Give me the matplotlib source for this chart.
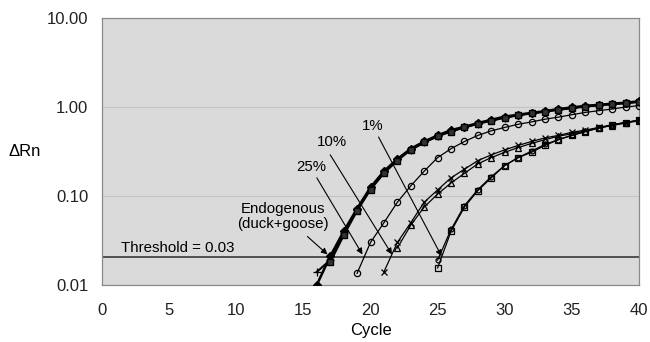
import numpy as np
import matplotlib
matplotlib.use('Agg')
import matplotlib.pyplot as plt

plt.rcParams['font.family'] = ['Liberation Sans', 'DejaVu Sans']

# Curvas de amplificacion (ciclo inicial, valores de delta Rn por ciclo)
endo_diamante_ini = 16
endo_diamante = [0.010, 0.021, 0.040, 0.072, 0.125, 0.19, 0.26, 0.34, 0.41, 0.48, 0.55, 0.60,
                 0.66, 0.72, 0.78, 0.82, 0.86, 0.90, 0.95, 0.99, 1.03, 1.06, 1.09, 1.12, 1.16]
endo_mas_ini = 16
endo_mas = [0.014, 0.019, 0.038, 0.070, 0.120, 0.185, 0.26, 0.33, 0.40, 0.47, 0.54, 0.59,
            0.65, 0.71, 0.76, 0.81, 0.85, 0.89, 0.94, 0.98, 1.02, 1.05, 1.08, 1.11, 1.15]
endo_cuadrado_ini = 17
endo_cuadrado = [0.018, 0.036, 0.068, 0.118, 0.18, 0.25, 0.33, 0.40, 0.47, 0.53, 0.59,
                 0.65, 0.70, 0.76, 0.81, 0.85, 0.89, 0.93, 0.97, 1.01, 1.05, 1.08, 1.11, 1.14]

p25_ini = 19
p25 = [0.0135, 0.030, 0.050, 0.085, 0.13, 0.19, 0.27, 0.34, 0.41, 0.48, 0.54, 0.59,
       0.64, 0.68, 0.73, 0.77, 0.82, 0.87, 0.91, 0.95, 1.00, 1.04]

p10_ini = 21
p10 = [0.014, 0.030, 0.050, 0.085, 0.117, 0.16, 0.20, 0.25, 0.29, 0.33, 0.37, 0.41,
       0.45, 0.48, 0.52, 0.55, 0.59, 0.63, 0.67, 0.71]
p10b_ini = 22
p10b = [0.026, 0.047, 0.075, 0.105, 0.14, 0.18, 0.23, 0.27, 0.31, 0.35, 0.39, 0.43,
        0.47, 0.50, 0.54, 0.58, 0.62, 0.66, 0.70]

p1_ini = 25
p1 = [0.0155, 0.040, 0.075, 0.115, 0.16, 0.22, 0.27, 0.31, 0.37, 0.43, 0.48, 0.53,
      0.58, 0.63, 0.67, 0.71]
p1b_ini = 25
p1b = [0.019, 0.042, 0.078, 0.118, 0.165, 0.22, 0.27, 0.32, 0.38, 0.43, 0.48, 0.53,
       0.58, 0.63, 0.67, 0.71]

umbral = 0.0205
texto_umbral = 'Threshold = 0.03'

# etiquetas: texto, posicion del texto, cola y punta de la flecha
etiquetas = ['1%', '10%', '25%', 'Endogenous\n(duck+goose)']
pos_texto = [(20.2, 0.61), (17.1, 0.40), (15.6, 0.21), (13.5, 0.059)]
cola = [(20.6, 0.46), (17.0, 0.29), (16.0, 0.16), (15.3, 0.035)]
punta = [(25.3, 0.021), (21.6, 0.022), (19.4, 0.022), (16.8, 0.022)]

fig = plt.figure(figsize=(6.5, 3.42), dpi=100)
ax = fig.add_axes([0.157, 0.167, 0.826, 0.780])
ax.set_facecolor('#dadada')

def curva(ini, valores, **kw):
    ciclos = np.arange(ini, ini + len(valores))
    ax.plot(ciclos, valores, color='k', **kw)

# endogeno (linea gruesa)
curva(endo_diamante_ini, endo_diamante, lw=1.8, marker='D', ms=4.5, mfc='k', zorder=4)
curva(endo_mas_ini, endo_mas, lw=1.5, marker='+', ms=5.5, mew=0.9, zorder=4)
curva(endo_cuadrado_ini, endo_cuadrado, lw=1.5, marker='s', ms=4, mfc='#333333', zorder=4)
# diluciones
curva(p25_ini, p25, lw=0.9, marker='o', ms=4.5, mfc='none', mew=0.9, zorder=3)
curva(p10_ini, p10, lw=0.9, marker='x', ms=5, mew=0.9, zorder=3)
curva(p10b_ini, p10b, lw=0.9, marker='^', ms=4.5, mfc='none', mew=0.9, zorder=3)
curva(p1_ini, p1, lw=0.9, marker='s', ms=4.5, mfc='none', mew=0.9, zorder=3)
curva(p1b_ini, p1b, lw=0.9, marker='o', ms=3.5, mfc='none', mew=0.9, zorder=3)

ax.axhline(umbral, color='#3a3a3a', lw=1.2, zorder=2)
ax.text(1.4, 0.026, texto_umbral, fontsize=10.8, ha='left', va='center')

for txt, pt, c, p in zip(etiquetas, pos_texto, cola, punta):
    ax.text(pt[0], pt[1], txt, fontsize=10.8, ha='center', va='center', linespacing=1.05)
    ax.annotate('', xy=p, xytext=c,
                arrowprops=dict(arrowstyle='-|>', color='k', lw=0.8, mutation_scale=9,
                                shrinkA=0, shrinkB=0))

ax.set_yscale('log')
ax.set_ylim(0.01, 10)
ax.set_xlim(0, 40)
ax.set_yticks([0.01, 0.1, 1, 10])
ax.set_yticklabels(['0.01', '0.10', '1.00', '10.00'])
ax.minorticks_off()
ax.set_xticks(range(0, 41, 5))
ax.tick_params(length=0, labelsize=12, colors='#222222')
ax.tick_params(axis='x', pad=13)
ax.tick_params(axis='y', pad=10)
ax.yaxis.grid(True, color='#c4c4c4', lw=0.8)
ax.set_axisbelow(True)
for s in ax.spines.values():
    s.set_color('#8a8a8a')
    s.set_linewidth(0.9)

ax.set_xlabel('Cycle', fontsize=12, labelpad=4)
ax.set_ylabel('ΔRn', fontsize=12, rotation=0, ha='center', va='center')
ax.yaxis.set_label_coords(-0.145, 0.5)

plt.savefig('out.png', dpi=100)
